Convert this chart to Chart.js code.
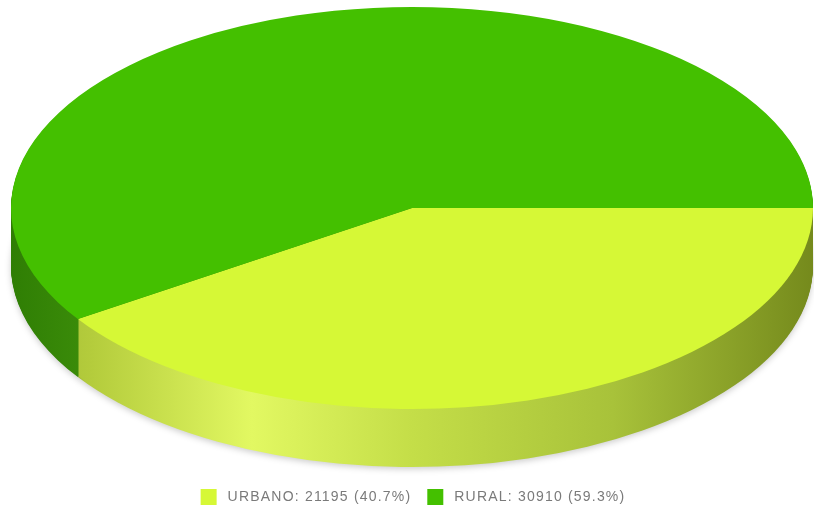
<!DOCTYPE html>
<html lang="es">
<head>
<meta charset="UTF-8">
<title>Población urbana y rural</title>
<script src="https://cdn.jsdelivr.net/npm/chart.js"></script>
<style>
  html, body { margin: 0; padding: 0; background: #fff; }
  #wrap { width: 814px; height: 508px; }
</style>
</head>
<body>
<div id="wrap"><canvas id="pie" width="814" height="508"></canvas></div>
<script>
// data
const categories = ['URBANO', 'RURAL'];
const population = [21195, 30910];

// styles
const topColors = ['#d6f836', '#44c000'];
const sideStops = [
    [[0, '#9fb832'], [0.1, '#b4cc3c'], [0.3, '#e2f862'], [0.5, '#c4de48'], [0.75, '#a8c23a'], [1, '#758a1c']],
    [[0, '#2f7e04'], [0.1, '#3c8d0a'], [1, '#3c8d0a']]
];
// where the flattened pie sits on the canvas (px)
const OVAL = { cx: 412, cy: 208, rx: 401, ry: 201, depth: 58 };

// squash the round pie into an oval and stack darker copies under it for the rim
const pie3d = {
    id: 'pie3d',
    beforeDatasetsDraw(chart) {
        const ctx = chart.ctx;
        const arcs = chart.getDatasetMeta(0).data;
        if (!arcs.length) return;
        const cx = arcs[0].x, cy = arcs[0].y, R = arcs[0].outerRadius;
        const sx = OVAL.rx / R, sy = OVAL.ry / R;
        const toOval = () => {
            ctx.translate(OVAL.cx, OVAL.cy);
            ctx.scale(sx, sy);
            ctx.translate(-cx, -cy);
        };
        const ux = px => cx + (px - OVAL.cx) / sx;

        const sideFill = arcs.map((arc, i) => {
            const g = ctx.createLinearGradient(ux(OVAL.cx - OVAL.rx), 0, ux(OVAL.cx + OVAL.rx), 0);
            sideStops[i].forEach(([o, c]) => g.addColorStop(o, c));
            return g;
        });

        for (let d = OVAL.depth; d >= 1; d--) {
            ctx.save();
            if (d === OVAL.depth) {
                ctx.shadowColor = 'rgba(0,0,0,0.2)';
                ctx.shadowBlur = 6;
                ctx.shadowOffsetY = 2;
            }
            ctx.translate(0, d);
            toOval();
            arcs.forEach((arc, i) => {
                const opts = arc.options;
                arc.options = Object.assign({}, opts, { backgroundColor: sideFill[i], borderWidth: 0 });
                arc.draw(ctx);
                arc.options = opts;
            });
            ctx.restore();
        }

        // top face gets drawn by chart.js under this transform
        ctx.save();
        toOval();
    },
    afterDatasetsDraw(chart) {
        chart.ctx.restore();
    }
};

// legend row under the pie
const flatLegend = {
    id: 'flatLegend',
    afterDraw(chart) {
        const ctx = chart.ctx;
        const total = population.reduce((a, b) => a + b, 0);
        const texts = categories.map((c, i) =>
            `${c}: ${population[i]} (${(population[i] / total * 100).toFixed(1)}%)`);
        ctx.save();
        ctx.font = '14px "Liberation Sans", Arial, sans-serif';
        ctx.letterSpacing = '1.2px';
        const widths = texts.map(t => ctx.measureText(t).width);
        const box = 16, gapText = 11, gapItem = 16;
        const totalW = widths.reduce((s, w) => s + box + gapText + w, 0) + gapItem * (texts.length - 1);
        let x = 413 - totalW / 2;
        texts.forEach((t, i) => {
            ctx.fillStyle = topColors[i];
            ctx.fillRect(x, 489, box, 16);
            x += box + gapText;
            ctx.fillStyle = '#7a7a7a';
            ctx.textBaseline = 'alphabetic';
            ctx.fillText(t, x, 501);
            x += widths[i] + gapItem;
        });
        ctx.restore();
    }
};

new Chart(document.getElementById('pie'), {
    type: 'pie',
    data: {
        labels: categories,
        datasets: [{
            data: population,
            backgroundColor: topColors,
            borderWidth: 0,
            clip: false
        }]
    },
    options: {
        responsive: false,
        animation: false,
        rotation: 90,
        events: [],
        plugins: {
            legend: { display: false },
            tooltip: { enabled: false }
        }
    },
    plugins: [pie3d, flatLegend]
});
</script>
</body>
</html>
